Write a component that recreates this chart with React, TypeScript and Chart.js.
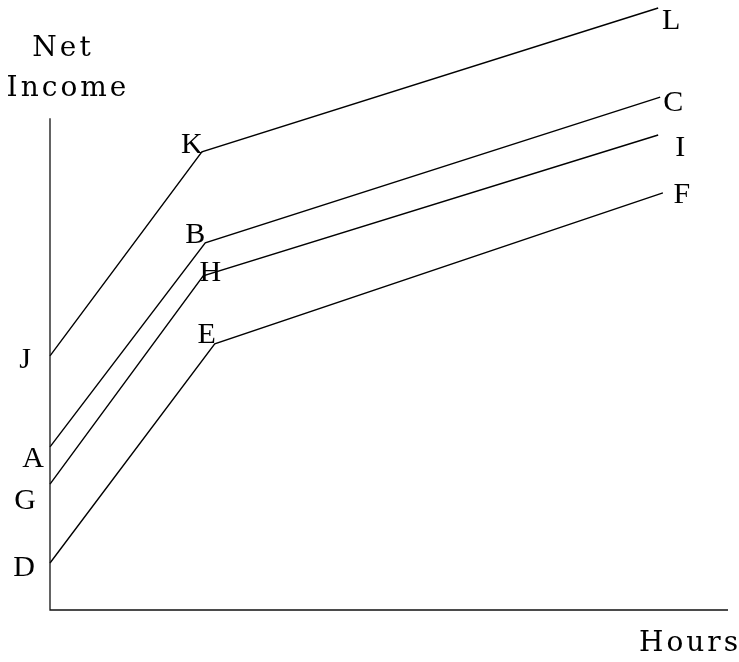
import React, { useEffect, useRef } from "react";
import { Chart, registerables } from "chart.js";

Chart.register(...registerables);

// x: hours, y: net income (arbitrary units)
const lineJKL = [
  { x: 0, y: 42.2 },
  { x: 22.4, y: 76.1 },
  { x: 89.7, y: 100 },
];
const lineABC = [
  { x: 0, y: 27.1 },
  { x: 22.9, y: 61.0 },
  { x: 90.0, y: 85.2 },
];
const lineGHI = [
  { x: 0, y: 20.9 },
  { x: 22.6, y: 55.5 },
  { x: 89.7, y: 78.9 },
];
const lineDEF = [
  { x: 0, y: 7.8 },
  { x: 24.3, y: 44.2 },
  { x: 90.4, y: 69.3 },
];
const labelsJKL = ["J", "K", "L"];
const labelsABC = ["A", "B", "C"];
const labelsGHI = ["G", "H", "I"];
const labelsDEF = ["D", "E", "F"];

const yAxisTitle = ["Net", "Income"];
const xAxisTitle = "Hours";
const xAxisEnd = 100;
const yAxisTop = 81.7;

// label offsets (px) relative to each point
const labelOffsets: Record<string, [number, number]> = {
  J: [-25, 2], K: [-10, -9], L: [13, 11],
  A: [-17, 10], B: [-10, -10], C: [13, 4],
  G: [-25, 15], H: [7, -5], I: [22, 11],
  D: [-26, 3], E: [-8, -11], F: [19, 0],
};

const FONT = '"Liberation Serif", "Times New Roman", serif';
const TITLE_FONT = '"DejaVu Serif", serif';

const annotate = {
  id: "annotate",
  afterDatasetsDraw(chart: any) {
    const ctx = chart.ctx as CanvasRenderingContext2D;
    const xs = chart.scales.x;
    const ys = chart.scales.y;
    ctx.save();
    // axes
    ctx.strokeStyle = "#111";
    ctx.lineWidth = 1.3;
    ctx.beginPath();
    ctx.moveTo(xs.getPixelForValue(0), ys.getPixelForValue(yAxisTop));
    ctx.lineTo(xs.getPixelForValue(0), ys.getPixelForValue(0));
    ctx.lineTo(xs.getPixelForValue(xAxisEnd), ys.getPixelForValue(0));
    ctx.stroke();

    // point labels
    ctx.fillStyle = "#000";
    ctx.textAlign = "center";
    ctx.textBaseline = "middle";
    ctx.font = `30px ${FONT}`;
    chart.data.datasets.forEach((ds: any, di: number) => {
      const meta = chart.getDatasetMeta(di);
      ds.pointLabels.forEach((lab: string, i: number) => {
        const p = meta.data[i];
        const off = labelOffsets[lab] || [0, 0];
        ctx.fillText(lab, p.x + off[0], p.y + off[1] + 2);
      });
    });

    // axis titles
    ctx.font = `28px ${TITLE_FONT}`;
    (ctx as any).letterSpacing = "3px";
    ctx.textAlign = "center";
    ctx.fillText(yAxisTitle[0], 63, 49);
    ctx.fillText(yAxisTitle[1], 68, 89);
    ctx.fillText(xAxisTitle, 690, 644);
    ctx.restore();
  },
};

export default function App() {
  const ref = useRef<HTMLCanvasElement>(null);
  useEffect(() => {
    document.body.style.margin = "0";
    const mk = (data: any[], labels: string[]) => ({
      data,
      pointLabels: labels,
      borderColor: "#000",
      borderWidth: 1.4,
      pointRadius: 0,
      tension: 0,
      fill: false,
      clip: false,
    });
    const chart = new Chart(ref.current!, {
      type: "line",
      data: {
        datasets: [
          mk(lineJKL, labelsJKL),
          mk(lineABC, labelsABC),
          mk(lineGHI, labelsGHI),
          mk(lineDEF, labelsDEF),
        ] as any,
      },
      options: {
        animation: false,
        responsive: false,
        layout: { padding: { left: 50, right: 11, top: 8, bottom: 52 } },
        plugins: { legend: { display: false }, tooltip: { enabled: false } },
        scales: {
          x: { type: "linear", min: 0, max: xAxisEnd, display: false },
          y: { type: "linear", min: 0, max: 100, display: false },
        },
      },
      plugins: [annotate],
    });
    return () => chart.destroy();
  }, []);
  return (
    <div style={{ width: 739, height: 662, background: "#fff" }}>
      <canvas ref={ref} width={739} height={662} style={{ display: "block" }} />
    </div>
  );
}
